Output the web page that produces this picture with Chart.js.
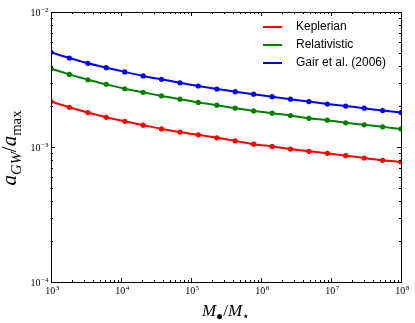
<!DOCTYPE html>
<html>
<head>
<meta charset="utf-8">
<title></title>
<style>
  body { margin: 0; background: #fff; }
  #wrap { width: 415px; height: 323px; }
</style>
</head>
<body>
<div id="wrap"><canvas id="myChart"></canvas></div>
<script src="https://cdn.jsdelivr.net/npm/chart.js@4/dist/chart.umd.min.js"></script>
<script>
// M_bh / M_star sample points (log spaced)
const massRatio = [1e3, 1.83e3, 3.36e3, 6.16e3, 1.13e4, 2.07e4, 3.79e4, 6.95e4, 1.27e5, 2.34e5,
                   4.28e5, 7.85e5, 1.44e6, 2.64e6, 4.83e6, 8.86e6, 1.62e7, 2.98e7, 5.46e7, 1e8];
const keplerian = [2.17e-3, 1.97e-3, 1.80e-3, 1.66e-3, 1.55e-3, 1.45e-3, 1.36e-3, 1.29e-3, 1.23e-3, 1.17e-3,
                   1.11e-3, 1.05e-3, 1.01e-3, 9.66e-4, 9.29e-4, 8.98e-4, 8.62e-4, 8.29e-4, 7.97e-4, 7.74e-4];
const relativistic = [3.80e-3, 3.45e-3, 3.15e-3, 2.91e-3, 2.70e-3, 2.54e-3, 2.39e-3, 2.26e-3, 2.14e-3, 2.04e-3,
                      1.94e-3, 1.85e-3, 1.78e-3, 1.71e-3, 1.63e-3, 1.58e-3, 1.51e-3, 1.46e-3, 1.41e-3, 1.36e-3];
const gair2006 = [5.03e-3, 4.56e-3, 4.17e-3, 3.87e-3, 3.60e-3, 3.36e-3, 3.17e-3, 2.99e-3, 2.83e-3, 2.69e-3,
                  2.57e-3, 2.46e-3, 2.36e-3, 2.26e-3, 2.17e-3, 2.08e-3, 2.01e-3, 1.94e-3, 1.86e-3, 1.80e-3];

const seriesNames = ['Keplerian', 'Relativistic', 'Gair et al. (2006)'];
const seriesColors = ['#ff0000', '#008000', '#0000ff'];

const xTicks = [1e3, 1e4, 1e5, 1e6, 1e7, 1e8];
const xTickExp = ['3', '4', '5', '6', '7', '8'];
const yTicks = [1e-4, 1e-3, 1e-2];
const yTickExp = ['\u22124', '\u22123', '\u22122'];

const SERIF = '"Liberation Serif", "DejaVu Serif", serif';
const SANS = '"Liberation Sans", Arial, sans-serif';

// "10" with a raised exponent, y = baseline of the "10"
function drawPow10(ctx, exp, x, y, align) {
  ctx.font = '10px ' + SERIF;
  let wb = ctx.measureText('10').width;
  ctx.font = '7px ' + SERIF;
  let we = ctx.measureText(exp).width;
  let x0 = align == 'center' ? x - (wb + we) / 2 : x - wb - we;
  ctx.textAlign = 'left';
  ctx.textBaseline = 'alphabetic';
  ctx.font = '10px ' + SERIF;
  ctx.fillText('10', x0, y);
  ctx.font = '7px ' + SERIF;
  ctx.fillText(exp, x0 + wb + 0.5, y - 4.5);
}

// list of [text, italic, sub] pieces drawn in a row, centered at 0
function drawMath(ctx, parts, size) {
  let subSize = size * 0.7;
  let widths = parts.map(p => {
    ctx.font = (p[1] ? 'italic ' : '') + (p[2] ? subSize : size) + 'px ' + SERIF;
    return ctx.measureText(p[0]).width;
  });
  let total = widths.reduce((a, b) => a + b, 0);
  let x = -total / 2;
  ctx.textAlign = 'left';
  ctx.textBaseline = 'alphabetic';
  parts.forEach((p, i) => {
    ctx.font = (p[1] ? 'italic ' : '') + (p[2] ? subSize : size) + 'px ' + SERIF;
    ctx.fillText(p[0], x, p[2] ? size * 0.22 : 0);
    x += widths[i];
  });
}

const axesPlugin = {
  id: 'mplAxes',
  afterDatasetsDraw(chart) {
    const ctx = chart.ctx;
    const a = chart.chartArea;
    const xs = chart.scales.x, ys = chart.scales.y;
    ctx.save();
    ctx.strokeStyle = '#000';
    ctx.fillStyle = '#000';
    ctx.lineWidth = 1;

    // frame
    ctx.strokeRect(Math.round(a.left) + 0.5, Math.round(a.top) + 0.5,
                   Math.round(a.right - a.left), Math.round(a.bottom - a.top));

    // ticks pointing inwards on all four sides
    ctx.beginPath();
    for (let d = 3; d <= 8; d++) {
      for (let k = 1; k <= 9; k++) {
        let v = k * Math.pow(10, d);
        if (v > 1e8 * 1.0001) break;
        let px = Math.round(xs.getPixelForValue(v)) + 0.5;
        let len = k == 1 ? 4 : 2;
        ctx.moveTo(px, a.bottom); ctx.lineTo(px, a.bottom - len);
        ctx.moveTo(px, a.top); ctx.lineTo(px, a.top + len);
      }
    }
    for (let d = -4; d <= -2; d++) {
      for (let k = 1; k <= 9; k++) {
        let v = k * Math.pow(10, d);
        if (v > 1e-2 * 1.0001) break;
        let py = Math.round(ys.getPixelForValue(v)) + 0.5;
        let len = k == 1 ? 4 : 2;
        ctx.moveTo(a.left, py); ctx.lineTo(a.left + len, py);
        ctx.moveTo(a.right, py); ctx.lineTo(a.right - len, py);
      }
    }
    ctx.stroke();

    // tick labels
    xTicks.forEach((v, i) => drawPow10(ctx, xTickExp[i], xs.getPixelForValue(v) + 1, a.bottom + 12, 'center'));
    yTicks.forEach((v, i) => drawPow10(ctx, yTickExp[i], a.left - 3, ys.getPixelForValue(v) + 4, 'right'));

    // axis titles
    ctx.save();
    ctx.translate((a.left + a.right) / 2, 316);
    drawMath(ctx, [['M', true, false], ['\u25CF', false, true], ['/', false, false],
                   ['M', true, false], ['\u22C6', false, true]], 17);
    ctx.restore();

    ctx.save();
    ctx.translate(16, (a.top + a.bottom) / 2 + 1);
    ctx.rotate(-Math.PI / 2);
    drawMath(ctx, [['a', true, false], ['GW', true, true], ['/', false, false],
                   ['a', true, false], ['max', false, true]], 21);
    ctx.restore();

    // legend (no frame)
    ctx.font = '12px ' + SANS;
    ctx.textAlign = 'left';
    ctx.textBaseline = 'middle';
    ctx.lineWidth = 2;
    seriesNames.forEach((name, i) => {
      let y = 27 + i * 18;
      ctx.strokeStyle = seriesColors[i];
      ctx.beginPath();
      ctx.moveTo(263, y); ctx.lineTo(282, y);
      ctx.stroke();
      ctx.fillStyle = '#000';
      ctx.fillText(name, 296, y);
    });
    ctx.restore();
  }
};

const allSeries = [keplerian, relativistic, gair2006];

var ctx = document.getElementById('myChart').getContext('2d');
var chart = new Chart(ctx, {
  type: 'line',
  data: {
    datasets: allSeries.map((vals, i) => ({
      label: seriesNames[i],
      data: massRatio.map((m, j) => ({ x: m, y: vals[j] })),
      borderColor: seriesColors[i],
      backgroundColor: seriesColors[i],
      borderWidth: 2,
      pointRadius: 2.6,
      pointBorderWidth: 0,
      pointBackgroundColor: seriesColors[i],
      tension: 0.2,
      fill: false
    }))
  },
  options: {
    responsive: true,
    maintainAspectRatio: false,
    animation: false,
    layout: { padding: { left: 51, top: 12, right: 14, bottom: 41 } },
    plugins: {
      legend: { display: false },
      tooltip: { enabled: false }
    },
    scales: {
      x: { type: 'logarithmic', min: 1e3, max: 1e8, display: false },
      y: { type: 'logarithmic', min: 1e-4, max: 1e-2, display: false }
    }
  },
  plugins: [axesPlugin]
});
</script>
</body>
</html>
